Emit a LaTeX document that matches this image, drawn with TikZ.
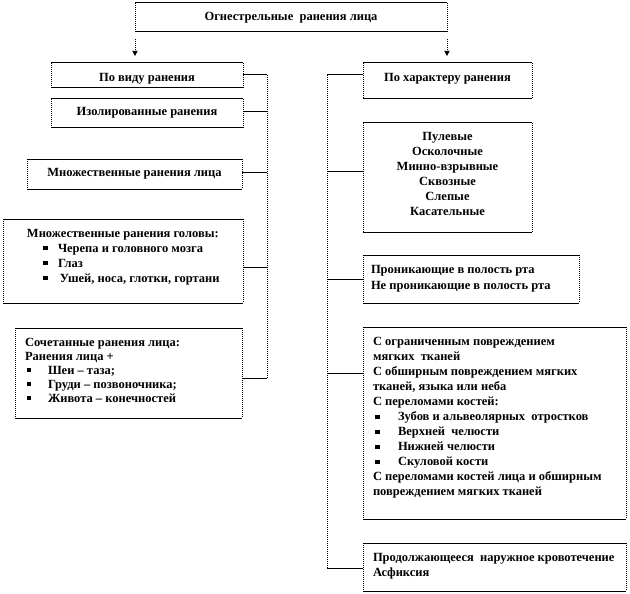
\documentclass[tikz,border=0pt]{standalone}
\usepackage{fontspec}
\setmainfont{Liberation Serif}
\usetikzlibrary{arrows.meta}
\newcommand{\st}{\rule{0pt}{11pt}}
\newcommand{\bul}{\raisebox{2pt}{\rule{4.5pt}{4pt}}}
\newcommand{\boxtext}[5]{\begin{minipage}[c][#2pt][t]{#1pt}\fontsize{12.5pt}{#3pt}\selectfont\bfseries\vspace*{#4pt}#5\end{minipage}}
\newcommand{\li}[2]{\par\noindent\st\hspace*{#1pt}#2\par}
\newcommand{\bl}[3]{\par\noindent\st\hspace*{#1pt}\makebox[#2pt][l]{\bul}#3\par}
\newcommand{\cl}[1]{\par\noindent\st\hfill#1\hfill\null\par}
\newcommand{\boxedges}[1]{%
  \draw[vedge] (#1.north west) -- (#1.south west) (#1.north east) -- (#1.south east);
  \draw[hedge] (#1.north west) -- (#1.north east) (#1.south west) -- (#1.south east);}
\begin{document}
\begin{tikzpicture}[x=1pt,y=-1pt,
  boxx/.style={rectangle, inner sep=0pt, outer sep=0pt, anchor=north west, fill=white},
  vedge/.style={line width=1pt, dash pattern=on 1pt off 1pt},
  hedge/.style={line width=1pt},
  vconn/.style={line width=1pt, dash pattern=on 1pt off 1pt},
  hconn/.style={line width=1pt},
  arr/.style={line width=1pt, dash pattern=on 1pt off 1pt, -{Triangle[width=5pt,length=5pt]}}]
\fill[white] (0,0) rectangle (630,594);
\useasboundingbox (0,0) rectangle (630,594);

% left column
\node[boxx] (title) at (135,3) {\boxtext{312}{29}{15}{7}{\cl{Огнестрельные\ \ ранения лица}}};
\node[boxx] (vid) at (51,63) {\boxtext{192}{25}{15}{7}{\cl{По виду ранения}}};
\node[boxx] (izol) at (51,99) {\boxtext{192}{29}{15}{6}{\cl{Изолированные ранения}}};
\node[boxx] (mlica) at (27,159) {\boxtext{215}{30}{15}{6}{\cl{Множественные ранения лица}}};
\node[boxx] (golovy) at (3,219) {\boxtext{240}{84}{15}{7}{%
  \li{24}{Множественные ранения головы:}%
  \bl{40}{15}{Черепа и головного мозга}%
  \bl{40}{15}{Глаз}%
  \bl{40}{17}{Ушей, носа, глотки, гортани}}};
\node[boxx] (soch) at (15,328) {\boxtext{227}{90}{14}{7}{%
  \li{10}{Сочетанные ранения лица:}%
  \li{10}{Ранения лица +}%
  \bl{12}{21}{Шеи – таза;}%
  \bl{12}{21}{Груди – позвоночника;}%
  \bl{12}{21}{Живота – конечностей}}};

% right column
\node[boxx] (char) at (363,63) {\boxtext{169}{36}{15}{8}{\cl{По характеру ранения}}};
\node[boxx] (pul) at (363,123) {\boxtext{169}{109}{15.2}{6}{%
  \cl{Пулевые}\cl{Осколочные}\cl{Минно-взрывные}\cl{Сквозные}\cl{Слепые}\cl{Касательные}}};
\node[boxx] (pron) at (363,255) {\boxtext{216}{48}{16}{7}{%
  \li{8}{Проникающие в полость рта}%
  \li{8}{Не проникающие в полость рта}}};
\node[boxx] (big) at (363,327) {\boxtext{263}{192}{15}{7.7}{%
  \li{10}{С ограниченным повреждением}%
  \li{10}{мягких\ \ тканей}%
  \li{10}{С обширным повреждением мягких}%
  \li{10}{тканей, языка или неба}%
  \li{10}{С переломами костей:}%
  \bl{12}{23}{Зубов и альвеолярных\ \ отростков}%
  \bl{12}{23}{Верхней\ \ челюсти}%
  \bl{12}{23}{Нижней челюсти}%
  \bl{12}{23}{Скуловой кости}%
  \li{10}{С переломами костей лица и обширным}%
  \li{10}{повреждением мягких тканей}}};
\node[boxx] (last) at (363,543) {\boxtext{263}{48}{15}{7}{%
  \li{10}{Продолжающееся\ \ наружное кровотечение}%
  \li{10}{Асфиксия}}};

\foreach \n in {title,vid,izol,mlica,golovy,soch,char,pul,pron,big,last} {\boxedges{\n}}

% arrows
\draw[arr] ([yshift=-7pt]title.south west) -- ([yshift=7pt]title.south west |- vid.north);
\draw[arr] ([yshift=-7pt]title.south east) -- ([yshift=7pt]title.south east |- char.north);

% left trunk
\coordinate (L1) at (267,75);
\coordinate (L2) at (267,112);
\coordinate (L3) at (267,172);
\coordinate (L4) at (267,267);
\coordinate (L5) at (267,378);
\draw[vconn] (L1) -- (L5);
\draw[hconn] (vid.east |- L1) -- (L1);
\draw[hconn] (izol.east |- L2) -- (L2);
\draw[hconn] (mlica.east |- L3) -- (L3);
\draw[hconn] (golovy.east |- L4) -- (L4);
\draw[hconn] (soch.east |- L5) -- (L5);

% right trunk
\coordinate (R1) at (327,75);
\coordinate (R2) at (327,171);
\coordinate (R3) at (327,279);
\coordinate (R4) at (327,373);
\coordinate (R5) at (327,568);
\draw[vconn] (R1) -- (R5);
\draw[hconn] (R1) -- (R1 -| char.west);
\draw[hconn] (R2) -- (R2 -| pul.west);
\draw[hconn] (R3) -- (R3 -| pron.west);
\draw[hconn] (R4) -- (R4 -| big.west);
\draw[hconn] (R5) -- (R5 -| last.west);
\end{tikzpicture}
\end{document}
